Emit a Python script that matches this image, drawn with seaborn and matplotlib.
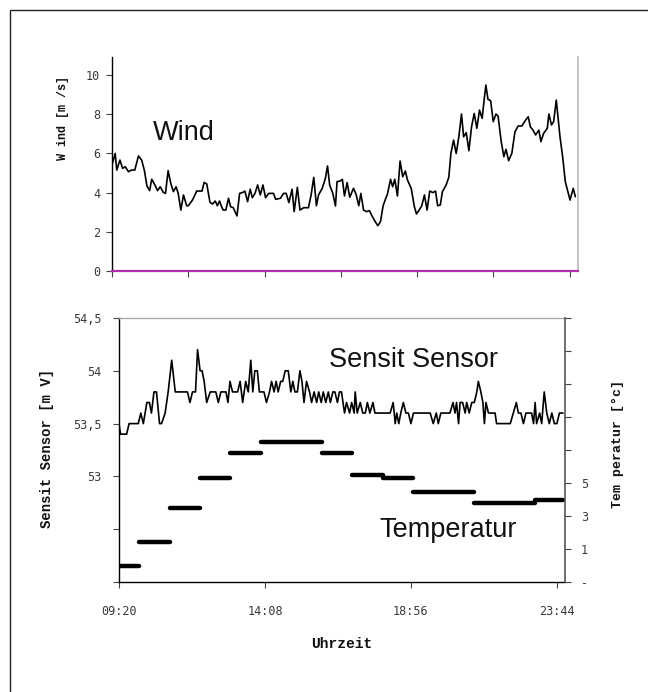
import numpy as np
import pandas as pd
import matplotlib
matplotlib.use("Agg")
import matplotlib.pyplot as plt
import seaborn as sns
from matplotlib.patches import Rectangle

# ---------------- data ----------------
t_origin = "09:20"

# wind [m/s] and sample time (minutes after 09:20)
wind_minutes = [0, 6, 9, 15, 20, 25, 31, 37, 43, 50, 56, 61, 66, 71, 75, 81, 86, 91, 97, 101,
                106, 111, 116, 121, 125, 130, 135, 141, 144, 152, 160, 170, 174, 179, 185, 190,
                195, 199, 203, 207, 210, 215, 220, 224, 229, 236, 241, 247, 251, 256, 261, 265,
                270, 275, 280, 285, 290, 296, 305, 309, 318, 324, 329, 334, 340, 344, 350, 355,
                362, 371, 376, 381, 386, 390, 397, 403, 407, 411, 417, 422, 425, 431, 435, 439,
                444, 449, 456, 461, 466, 470, 475, 481, 486, 491, 497, 502, 507, 512, 517, 520,
                526, 530, 534, 539, 544, 549, 554, 558, 565, 571, 575, 580, 585, 590, 595, 600,
                606, 611, 615, 620, 624, 631, 636, 640, 645, 650, 655, 660, 664, 669, 674, 679,
                684, 689, 694, 699, 702, 706, 710, 715, 720, 725, 729, 735, 740, 744, 749, 755,
                761, 767, 774, 781, 786, 790, 795, 800, 806, 810, 815, 822, 825, 830, 834, 839,
                846, 851, 856, 865, 871, 875]
wind = [5.41, 6.00, 5.15, 5.66, 5.24, 5.32, 5.07, 5.15, 5.15, 5.87, 5.66, 5.15, 4.34, 4.10,
        4.68, 4.39, 4.10, 4.30, 4.01, 3.96, 5.12, 4.47, 4.05, 4.30, 3.96, 3.11, 3.88, 3.33,
        3.33, 3.62, 4.08, 4.08, 4.52, 4.44, 3.50, 3.42, 3.57, 3.33, 3.57, 3.28, 3.11, 3.11,
        3.71, 3.28, 3.23, 2.81, 3.96, 4.01, 4.08, 3.54, 4.17, 3.74, 3.96, 4.39, 3.88, 4.39,
        3.74, 3.96, 3.96, 3.66, 3.71, 3.96, 3.96, 3.49, 4.17, 3.03, 4.27, 3.11, 3.23, 3.23,
        3.88, 4.78, 3.33, 3.88, 4.22, 4.73, 5.36, 4.39, 3.96, 3.32, 4.56, 4.59, 4.68, 3.83,
        4.51, 3.76, 4.22, 3.91, 3.33, 3.96, 3.11, 3.03, 3.08, 2.81, 2.52, 2.31, 2.52, 3.33,
        3.71, 3.91, 4.68, 4.30, 4.68, 3.83, 5.61, 4.81, 5.10, 4.64, 4.22, 3.28, 2.91, 3.11,
        3.33, 3.88, 3.11, 4.08, 4.00, 4.08, 3.33, 3.37, 4.05, 4.39, 4.78, 6.00, 6.68, 6.00,
        6.85, 8.01, 6.85, 7.06, 6.14, 7.36, 8.04, 7.28, 8.21, 7.79, 8.55, 9.49, 8.76, 8.69,
        7.62, 8.01, 7.91, 6.60, 5.83, 6.21, 5.63, 6.00, 7.11, 7.40, 7.40, 7.70, 7.87, 7.36,
        7.19, 6.94, 7.19, 6.60, 7.02, 7.28, 8.01, 7.45, 7.62, 8.72, 6.85, 5.83, 4.56, 3.62,
        4.22, 3.79]

# Sensit sensor [mV] and sample time (minutes after 09:20)
sensor_minutes = [0, 3, 9, 15, 20, 28, 38, 43, 48, 55,
                  60, 64, 69, 74, 80, 84, 91, 97, 104, 111,
                  117, 127, 135, 140, 145, 151, 155, 160, 164, 168,
                  173, 180, 186, 191, 196, 201, 206, 211, 215, 219,
                  224, 229, 234, 239, 244, 250, 255, 260, 264, 268,
                  273, 277, 282, 286, 291, 297, 301, 306, 310, 314,
                  319, 323, 328, 334, 339, 343, 347, 352, 357, 361,
                  365, 370, 376, 380, 385, 390, 394, 399, 403, 408,
                  413, 417, 422, 426, 431, 435, 439, 445, 449, 455,
                  459, 464, 466, 470, 476, 481, 486, 490, 495, 501,
                  505, 510, 515, 522, 528, 535, 541, 545, 548, 552,
                  556, 561, 566, 571, 576, 581, 588, 594, 604, 614,
                  620, 626, 630, 635, 640, 647, 653, 659, 663, 666,
                  670, 673, 678, 683, 686, 691, 696, 701, 706, 709,
                  714, 718, 721, 724, 729, 736, 742, 745, 752, 762,
                  772, 778, 784, 788, 793, 798, 803, 808, 814, 818,
                  821, 824, 830, 834, 839, 844, 849, 854, 859, 864,
                  869, 876]
sensor = [53.5, 53.4, 53.4, 53.4, 53.5, 53.5, 53.5, 53.6, 53.5, 53.7,
          53.7, 53.6, 53.8, 53.8, 53.5, 53.5, 53.6, 53.8, 54.1, 53.8,
          53.8, 53.8, 53.8, 53.7, 53.8, 53.8, 54.2, 54.0, 54.0, 53.9,
          53.7, 53.8, 53.8, 53.8, 53.7, 53.8, 53.8, 53.8, 53.7, 53.9,
          53.8, 53.8, 53.8, 53.9, 53.7, 53.9, 53.8, 54.1, 53.8, 54.0,
          54.0, 53.8, 53.8, 53.8, 53.7, 53.8, 53.9, 53.8, 53.9, 53.8,
          53.9, 53.9, 54.0, 54.0, 53.8, 53.9, 53.8, 53.8, 54.0, 53.9,
          53.7, 53.9, 53.8, 53.7, 53.8, 53.7, 53.8, 53.7, 53.8, 53.7,
          53.8, 53.7, 53.8, 53.8, 53.7, 53.8, 53.8, 53.6, 53.7, 53.6,
          53.7, 53.6, 53.8, 53.6, 53.7, 53.6, 53.6, 53.7, 53.6, 53.7,
          53.6, 53.6, 53.6, 53.6, 53.6, 53.6, 53.7, 53.5, 53.6, 53.5,
          53.6, 53.7, 53.6, 53.6, 53.5, 53.6, 53.6, 53.6, 53.6, 53.6,
          53.5, 53.6, 53.5, 53.6, 53.6, 53.6, 53.6, 53.7, 53.6, 53.7,
          53.5, 53.7, 53.7, 53.6, 53.7, 53.6, 53.7, 53.7, 53.8, 53.9,
          53.8, 53.7, 53.5, 53.7, 53.6, 53.6, 53.6, 53.5, 53.5, 53.5,
          53.5, 53.6, 53.7, 53.6, 53.6, 53.5, 53.6, 53.6, 53.6, 53.5,
          53.7, 53.5, 53.6, 53.5, 53.8, 53.6, 53.5, 53.6, 53.5, 53.5,
          53.6, 53.6]

# temperature [°C], hourly steps
temp_start = ["09:20", "10:00", "11:00", "12:00", "13:00", "14:00", "16:00", "17:00",
              "18:00", "19:00", "21:00", "23:00"]
temp_end = ["10:00", "11:00", "12:00", "13:00", "14:00", "16:00", "17:00", "18:00",
            "19:00", "21:00", "23:00", "23:56"]
temp_values = [0.0, 1.4, 3.5, 5.3, 6.8, 7.5, 6.8, 5.5, 5.3, 4.45, 3.8, 4.0]

top_xticks = ["09:20", "11:44", "14:08", "16:32", "18:56", "21:20", "23:44"]
bottom_xticks = ["09:20", "14:08", "18:56", "23:44"]
x_range = ["09:20", "24:00"]

wind_ticks = [0, 2, 4, 6, 8, 10]
sensor_ticks = [52.0, 52.5, 53.0, 53.5, 54.0, 54.5]
sensor_ticklabels = ["", "", "53", "53,5", "54", "54,5"]
temp_ticks = [-1, 1, 3, 5, 7, 9, 11, 13, 15]
temp_ticklabels = ["-", "1", "3", "5", "", "", "", "", ""]


def hours(s):
    h, m = s.split(":")
    return int(h) + int(m) / 60.0


t0 = hours(t_origin)

# ---------------- frames ----------------
wind_df = pd.DataFrame({"t": [t0 + m / 60.0 for m in wind_minutes], "v": wind})
sensor_df = pd.DataFrame({"t": [t0 + m / 60.0 for m in sensor_minutes], "v": sensor})
rows = []
for i, (a, b, v) in enumerate(zip(temp_start, temp_end, temp_values)):
    rows.append({"t": hours(a), "v": v, "step": i})
    rows.append({"t": hours(b), "v": v, "step": i})
temp_df = pd.DataFrame(rows)

# ---------------- style ----------------
sns.set_style("white")
plt.rcParams["font.family"] = ["DejaVu Sans"]

W, H = 648, 692
fig = plt.figure(figsize=(W / 100, H / 100), dpi=100)


def fx(x):
    return x / W


def fy(y):
    return 1 - y / H


tick_font = {"family": "DejaVu Sans Mono", "size": 8.5, "color": "#3a3a3a"}
label_font = dict(family="Liberation Mono", weight="bold", color="#111111")
note_font = dict(family="Liberation Sans", size=19.5, color="#111111")

# outer frame (cut off at right/bottom)
fig.patches.append(Rectangle((fx(10), -0.1), 1.2, fy(10) + 0.1, transform=fig.transFigure,
                             fill=False, edgecolor="#222222", linewidth=1.0))

# ---------------- top axes: wind ----------------
ax1 = fig.add_axes([fx(112), fy(271), fx(578 - 112), (271 - 57) / H])
sns.lineplot(data=wind_df, x="t", y="v", ax=ax1, color="black", linewidth=1.2)
ax1.set_xlim(hours(x_range[0]), hours(x_range[1]))
ax1.set_ylim(0, 10.92)
ax1.set_xticks([hours(s) for s in top_xticks])
ax1.set_xticklabels([])
ax1.set_yticks(wind_ticks)
ax1.set_yticklabels([str(v) for v in wind_ticks], fontdict=tick_font)
ax1.set_xlabel("")
ax1.set_ylabel("")
ax1.spines["top"].set_visible(False)
ax1.spines["right"].set_color("#bbbbbb")
ax1.spines["right"].set_linewidth(1.2)
ax1.spines["left"].set_color("black")
ax1.spines["left"].set_linewidth(1.0)
ax1.spines["bottom"].set_color("#b030b0")
ax1.spines["bottom"].set_linewidth(1.6)
ax1.tick_params(axis="both", direction="out", length=4.5, width=0.8, color="#444444",
                left=True, bottom=True)
ax1.tick_params(axis="y", pad=4)
ax1.text(hours("10:38"), 6.68, "Wind", **note_font)

# ---------------- bottom axes: sensor + temperature ----------------
ax2 = fig.add_axes([fx(119), fy(582), fx(565 - 119), (582 - 318) / H])
sns.lineplot(data=sensor_df, x="t", y="v", ax=ax2, color="black", linewidth=1.2)
ax2.set_xlim(hours(x_range[0]), hours(x_range[1]))
ax2.set_ylim(52.0, 54.5)
ax2.set_xticks([hours(s) for s in bottom_xticks])
ax2.set_xticklabels(bottom_xticks, fontdict=tick_font)
ax2.set_yticks(sensor_ticks)
ax2.set_yticklabels(sensor_ticklabels, fontdict=tick_font)
ax2.set_xlabel("")
ax2.set_ylabel("")
ax2.spines["top"].set_color("#aaaaaa")
ax2.spines["top"].set_linewidth(1.0)
ax2.spines["right"].set_visible(False)
for s in ("left", "bottom"):
    ax2.spines[s].set_color("black")
    ax2.spines[s].set_linewidth(1.0)
ax2.tick_params(axis="both", direction="out", length=4.5, width=0.8, color="#444444",
                left=True, bottom=True)
ax2.tick_params(axis="y", pad=8)
ax2.tick_params(axis="x", pad=12)
ax2.text(hours("16:14"), 54.04, "Sensit Sensor", **note_font)

ax3 = ax2.twinx()
sns.lineplot(data=temp_df, x="t", y="v", units="step", estimator=None, ax=ax3,
             color="black", linewidth=3.2)
ax3.set_xlim(hours(x_range[0]), hours(x_range[1]))
ax3.set_ylim(-1, 15)
ax3.set_yticks(temp_ticks)
ax3.set_yticklabels(temp_ticklabels, fontdict=tick_font)
ax3.set_ylabel("")
ax3.set_xlabel("")
for s in ("top", "left", "bottom"):
    ax3.spines[s].set_visible(False)
ax3.spines["right"].set_color("#555555")
ax3.spines["right"].set_linewidth(1.2)
ax3.tick_params(axis="y", direction="out", length=4.5, width=0.8, color="#444444",
                right=True, pad=7)
ax3.text(hours("17:53"), 1.73, "Temperatur", **note_font)

# ---------------- axis titles ----------------
fig.text(fx(63), fy(118), "W ind [m /s]", rotation=90, ha="center", va="center",
         size=8.5, **label_font)
fig.text(fx(47), fy(448), "Sensit Sensor [m V]", rotation=90, ha="center", va="center",
         size=10, **label_font)
fig.text(fx(618), fy(444), "Tem peratur [°c]", rotation=90, ha="center", va="center",
         size=9.5, **label_font)
fig.text(fx(342), fy(644), "Uhrzeit", ha="center", va="center", size=10.5, **label_font)

fig.savefig("out.png", dpi=100, facecolor="white")
